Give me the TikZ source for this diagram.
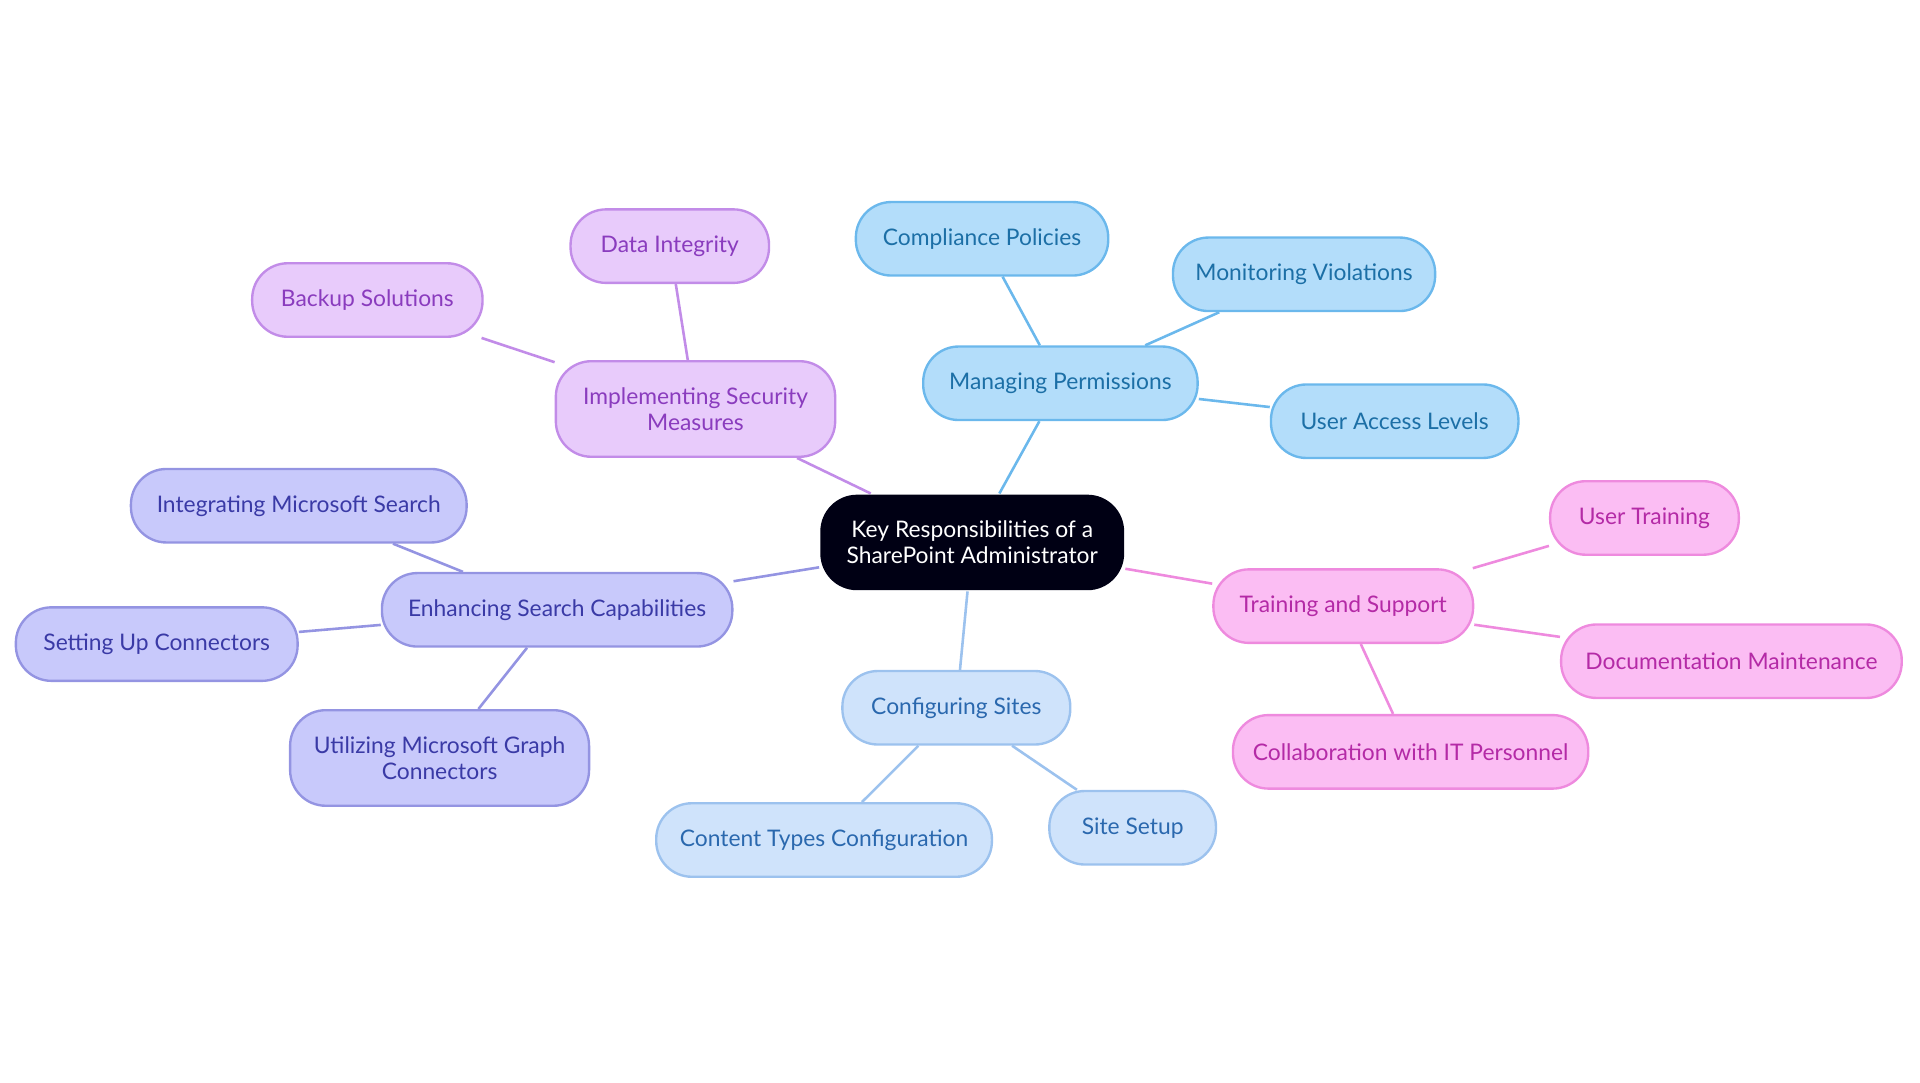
\documentclass[tikz,border=0pt]{standalone}
\usepackage{fontspec}
\setmainfont{Lato}
\usetikzlibrary{backgrounds}
\definecolor{cBlue}{HTML}{B3DDFA}\definecolor{cBlueD}{HTML}{6BB8EC}\definecolor{cBlueT}{HTML}{1C6FA6}
\definecolor{cPurp}{HTML}{E8CBFB}\definecolor{cPurpD}{HTML}{C28CE8}\definecolor{cPurpT}{HTML}{8A3CBE}
\definecolor{cInd}{HTML}{C8C9FB}\definecolor{cIndD}{HTML}{9494E2}\definecolor{cIndT}{HTML}{3A3AA6}
\definecolor{cSky}{HTML}{CFE3FB}\definecolor{cSkyD}{HTML}{9CC2EE}\definecolor{cSkyT}{HTML}{2A68AE}
\definecolor{cPink}{HTML}{FBBDF3}\definecolor{cPinkD}{HTML}{EE8ADE}\definecolor{cPinkT}{HTML}{B42AA6}
\tikzset{
    box/.style={rounded corners=0.29cm,minimum height=0.6cm,align=center,line width=0.55pt,font=\fontsize{5.3}{6}\selectfont,inner sep=0pt},
    blue/.style={box,fill=cBlue,draw=cBlueD,text=cBlueT},
    purp/.style={box,fill=cPurp,draw=cPurpD,text=cPurpT},
    ind/.style={box,fill=cInd,draw=cIndD,text=cIndT},
    sky/.style={box,fill=cSky,draw=cSkyD,text=cSkyT},
    pink/.style={box,fill=cPink,draw=cPinkD,text=cPinkT},
    ln/.style={line width=0.6pt}
}
\begin{document}
\begin{tikzpicture}[x=0.01cm,y=-0.01cm]
    \useasboundingbox (0,0) rectangle (1568,884);
    \node[box,fill=black!90!blue!60!gray,fill=black!92!blue,text=white,draw=none,minimum width=2.48cm,minimum height=0.78cm,rounded corners=0.3cm] (root) at (794,443) {Key Responsibilities of a\\SharePoint Administrator};

    \node[blue,minimum width=2.24cm] (perm) at (866,313) {Managing Permissions};
    \node[blue,minimum width=2.06cm] (comp) at (802,195) {Compliance Policies};
    \node[blue,minimum width=2.14cm] (moni) at (1065,224) {Monitoring Violations};
    \node[blue,minimum width=2.02cm] (uacc) at (1139,344) {User Access Levels};

    \node[purp,minimum width=2.28cm,minimum height=0.78cm] (secu) at (568,334) {Implementing Security\\Measures};
    \node[purp,minimum width=1.62cm] (data) at (547,201) {Data Integrity};
    \node[purp,minimum width=1.88cm] (back) at (300,245) {Backup Solutions};

    \node[ind,minimum width=2.86cm] (srch) at (455,498) {Enhancing Search Capabilities};
    \node[ind,minimum width=2.74cm] (msrc) at (244,413) {Integrating Microsoft Search};
    \node[ind,minimum width=2.30cm] (conn) at (128,526) {Setting Up Connectors};
    \node[ind,minimum width=2.44cm,minimum height=0.78cm] (grph) at (359,619) {Utilizing Microsoft Graph\\Connectors};

    \node[sky,minimum width=1.86cm] (site) at (781,578) {Configuring Sites};
    \node[sky,minimum width=2.74cm] (ctyp) at (673,686) {Content Types Configuration};
    \node[sky,minimum width=1.36cm] (sset) at (925,676) {Site Setup};

    \node[pink,minimum width=2.12cm] (trai) at (1097,495) {Training and Support};
    \node[pink,minimum width=1.54cm] (utra) at (1343,423) {User Training};
    \node[pink,minimum width=2.78cm] (docu) at (1414,540) {Documentation Maintenance};
    \node[pink,minimum width=2.90cm] (coll) at (1152,614) {Collaboration with IT Personnel};

    \begin{scope}[on background layer]
        \draw[ln,cBlueD] (root) -- (perm) (perm) -- (comp) (perm) -- (moni) (perm) -- (uacc);
        \draw[ln,cPurpD] (root) -- (secu) (secu) -- (data) (secu) -- (back);
        \draw[ln,cIndD] (root) -- (srch) (srch) -- (msrc) (srch) -- (conn) (srch) -- (grph);
        \draw[ln,cSkyD] (root) -- (site) (site) -- (ctyp) (site) -- (sset);
        \draw[ln,cPinkD] (root) -- (trai) (trai) -- (utra) (trai) -- (docu) (trai) -- (coll);
    \end{scope}
\end{tikzpicture}
\end{document}
